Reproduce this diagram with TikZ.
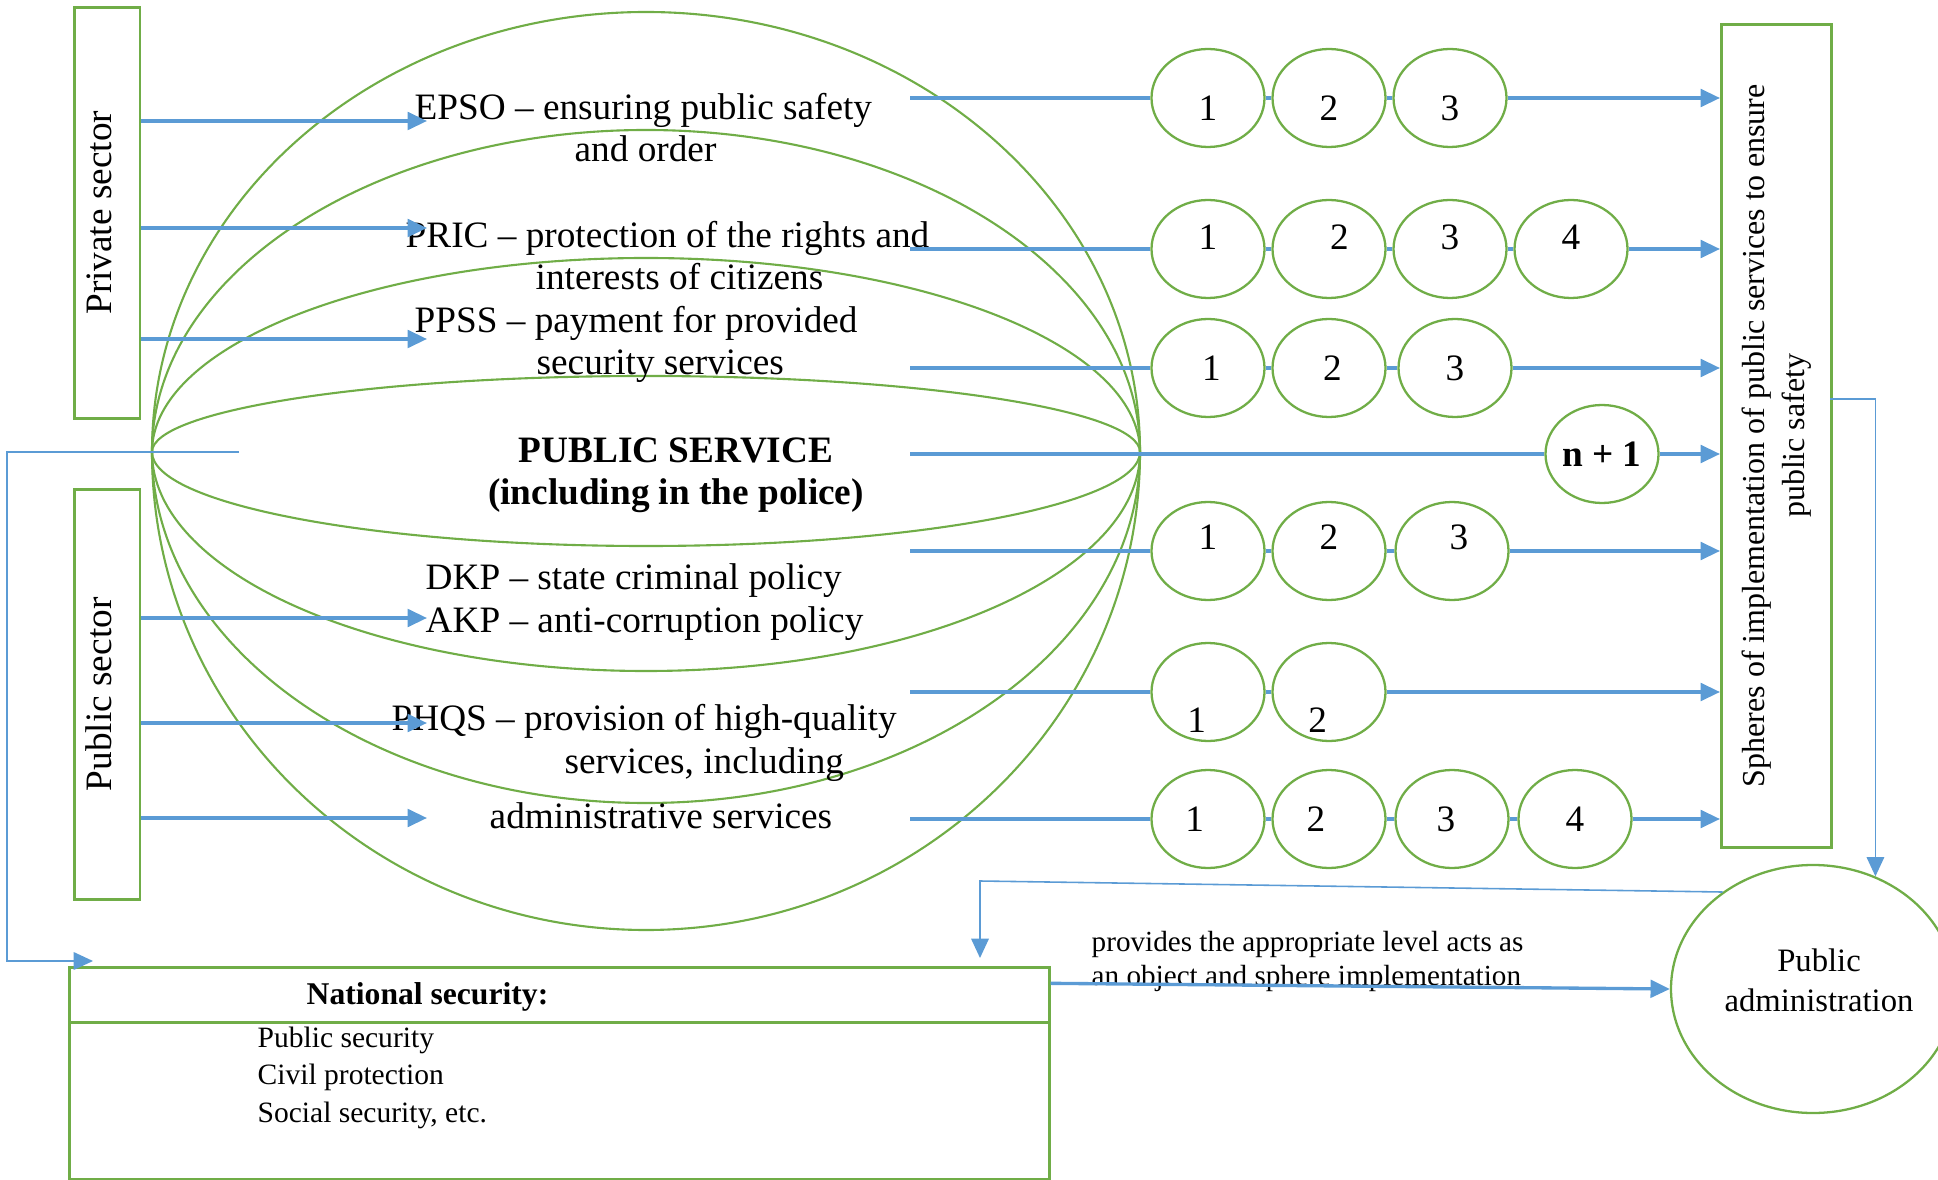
\documentclass[tikz,border=0pt]{standalone}
\usepackage{fontspec}
\setmainfont{Liberation Serif}
\usepackage{graphicx}
\usetikzlibrary{arrows.meta,shapes.geometric}

\definecolor{lineblue}{HTML}{5B9BD5}
\definecolor{leafgreen}{HTML}{70AD47}

\newcommand{\fs}[2]{\fontsize{#1}{#2}\selectfont}
% number inside an oval, moved by (dx,dy)
\newcommand{\nm}[3]{\raisebox{#2}[1.5ex][0pt]{\hspace*{#1}#3\hspace*{-#1}}}

\tikzset{
  sectorbox/.style={draw=leafgreen, line width=0.75pt, inner sep=0pt, font=\fs{10.6}{12.2}},
  oval/.style={ellipse, draw=leafgreen, line width=0.65pt, minimum width=11.3mm, minimum height=9.8mm, inner sep=0pt, font=\fs{10.6}{12.2}},
  lbl/.style={font=\fs{10.6}{12.2}, inner sep=0pt, align=left, anchor=base west},
  globe/.style={draw=leafgreen, line width=0.6pt},
  link/.style={draw=lineblue, line width=0.95pt},
  guide/.style={draw=lineblue, line width=0.45pt},
  arrowtip/.style={-{Triangle[length=5.5pt,width=5pt]}},
  flow/.style={link, arrowtip}
}

\begin{document}
\begin{tikzpicture}[x=0.1mm, y=-0.1mm]
  \useasboundingbox (0,0) rectangle (1938,1180);

  % the globe
  \foreach \t/\b in {440/478, 322/351, 194/219, 76/94}
    \draw[globe] (152,452) arc[start angle=180, end angle=360, x radius=494, y radius=\t]
                 arc[start angle=0, end angle=180, x radius=494, y radius=\b];

  % sector boxes
  \node[sectorbox, minimum width=6.56mm, minimum height=41.1mm, anchor=north west] (privbox) at (73,6)
    {\rotatebox{90}{\raisebox{0pt}[\height][4.6pt]{Private sector}}};
  \node[sectorbox, minimum width=6.56mm, minimum height=41mm, anchor=north west] (pubbox) at (73,488)
    {\rotatebox{90}{\raisebox{0pt}[\height][4.6pt]{Public sector}}};
  \node[sectorbox, minimum width=11mm, minimum height=82.3mm, anchor=north west, font=\fs{9.1}{11.4}] (spheres) at (1720,23)
    {\rotatebox{90}{\begin{tabular}{@{}c@{}}Spheres of implementation of public services to ensure\\public safety\end{tabular}}};

  % labels in the globe (base = last line)
  \node[lbl] (epso) at (414,162) {EPSO -- ensuring public safety\\\hspace*{16mm}and order};
  \node[lbl] (pric) at (405,290) {PRIC -- protection of the rights and\\\hspace*{13mm}interests of citizens};
  \node[lbl] (ppss) at (414,375) {PPSS -- payment for provided\\\hspace*{12.2mm}security services};
  \node[lbl, align=center, anchor=base, font=\fs{10.6}{12.2}\bfseries] (pubserv) at (676,505) {PUBLIC SERVICE\\(including in the police)};
  \node[lbl] (dkp) at (425,632) {DKP -- state criminal policy\\AKP -- anti-corruption policy};
  \node[lbl] (phqs) at (391,773) {PHQS -- provision of high-quality\\\hspace*{17.3mm}services, including};
  \node[lbl] (admsrv) at (489,828) {administrative services};

  % inputs from the sectors
  \coordinate (p1) at (427,121);
  \coordinate (p2) at (427,228);
  \coordinate (p3) at (427,339);
  \coordinate (q1) at (427,618);
  \coordinate (q2) at (427,723);
  \coordinate (q3) at (427,818);
  \draw[flow] (privbox.east |- p1) -- (p1);
  \draw[flow] (privbox.east |- p2) -- (p2);
  \draw[flow] (privbox.east |- p3) -- (p3);
  \draw[flow] (pubbox.east |- q1) -- (q1);
  \draw[flow] (pubbox.east |- q2) -- (q2);
  \draw[flow] (pubbox.east |- q3) -- (q3);

  % rows of spheres
  \node[oval] (a1) at (1208,98) {\nm{0pt}{-2.8pt}{1}};
  \node[oval] (a2) at (1329,98) {\nm{0pt}{-2.8pt}{2}};
  \node[oval] (a3) at (1450,98) {\nm{0pt}{-2.8pt}{3}};

  \node[oval] (b1) at (1208,249) {\nm{0pt}{3.4pt}{1}};
  \node[oval] (b2) at (1329,249) {\nm{3pt}{3.4pt}{2}};
  \node[oval] (b3) at (1450,249) {\nm{0pt}{3.4pt}{3}};
  \node[oval] (b4) at (1571,249) {\nm{0pt}{3.4pt}{4}};

  \node[oval] (c1) at (1208,368) {\nm{1pt}{0pt}{1}};
  \node[oval] (c2) at (1329,368) {\nm{1pt}{0pt}{2}};
  \node[oval] (c3) at (1455,368) {3};

  \node[oval] (n1) at (1602,454) {\textbf{n + 1}};

  \node[oval] (d1) at (1208,551) {\nm{0pt}{4.2pt}{1}};
  \node[oval] (d2) at (1329,551) {\nm{0pt}{4.2pt}{2}};
  \node[oval] (d3) at (1452,551) {\nm{2pt}{4.2pt}{3}};

  \node[oval] (e1) at (1208,692) {\nm{-3.2pt}{-8pt}{1}};
  \node[oval] (e2) at (1329,692) {\nm{-3.2pt}{-8pt}{2}};

  \node[oval] (f1) at (1208,819) {\nm{-3.8pt}{0pt}{1}};
  \node[oval] (f2) at (1329,819) {\nm{-3.7pt}{0pt}{2}};
  \node[oval] (f3) at (1452,819) {\nm{-1.7pt}{0pt}{3}};
  \node[oval] (f4) at (1575,819) {4};

  \coordinate (ra) at (910,98);
  \coordinate (rb) at (910,249);
  \coordinate (rc) at (910,368);
  \coordinate (rn) at (910,454);
  \coordinate (rd) at (910,551);
  \coordinate (re) at (910,692);
  \coordinate (rf) at (910,819);

  \draw[link] (ra) -- (a1) (a1) -- (a2) (a2) -- (a3);
  \draw[flow] (a3) -- (a3 -| spheres.west);
  \draw[link] (rb) -- (b1) (b1) -- (b2) (b2) -- (b3) (b3) -- (b4);
  \draw[flow] (b4) -- (b4 -| spheres.west);
  \draw[link] (rc) -- (c1) (c1) -- (c2) (c2) -- (c3);
  \draw[flow] (c3) -- (c3 -| spheres.west);
  \draw[link] (rn) -- (n1);
  \draw[flow] (n1) -- (n1 -| spheres.west);
  \draw[link] (rd) -- (d1) (d1) -- (d2) (d2) -- (d3);
  \draw[flow] (d3) -- (d3 -| spheres.west);
  \draw[link] (re) -- (e1) (e1) -- (e2);
  \draw[flow] (e2) -- (e2 -| spheres.west);
  \draw[link] (rf) -- (f1) (f1) -- (f2) (f2) -- (f3) (f3) -- (f4);
  \draw[flow] (f4) -- (f4 -| spheres.west);

  % national security
  \node[sectorbox, minimum width=98mm, minimum height=5.5mm, anchor=north west] (nstitle) at (68,966) {};
  \node[sectorbox, minimum width=98mm, minimum height=15.7mm, anchor=north west] (nsbody) at (68,1021) {};
  \node[inner sep=0pt, anchor=base west, font=\fs{9}{11}\bfseries] (nshead) at (306,1004) {National security:};
  \node[inner sep=0pt, anchor=base west, align=left, font=\fs{8.4}{10.67}] (nslist) at (257,1122)
    {Public security\\Civil protection\\Social security, etc.};

  % public administration
  \node[ellipse, draw=leafgreen, line width=0.65pt, minimum width=27.6mm, minimum height=24.8mm, inner sep=0pt,
        align=center, font=\fs{9.3}{11.4}] (admin) at (1813,989)
    {\hspace*{1.2mm}Public\\\hspace*{1.2mm}administration\rule[-5.1pt]{0pt}{5.1pt}};
  \node[inner sep=0pt, anchor=base west, align=left, font=\fs{8.3}{9.5}] (provtxt) at (1091,985)
    {provides the appropriate level acts as\\an object and sphere implementation};

  % connectors round the edge
  \coordinate (lb) at (239,452);
  \coordinate (nsin) at (93,961);
  \coordinate (sx) at (1830,399);
  \coordinate (nsfb) at (980,958);
  \draw[guide, arrowtip] (lb) -- ++(-232,0) |- (nsin);
  \draw[guide, arrowtip] (sx) -| (admin.61);
  \draw[guide, arrowtip] (admin.133) -- (980,881) -- (nsfb);
  \draw[flow] ([yshift=1.15mm]nstitle.east) -- (admin.west);
\end{tikzpicture}
\end{document}
